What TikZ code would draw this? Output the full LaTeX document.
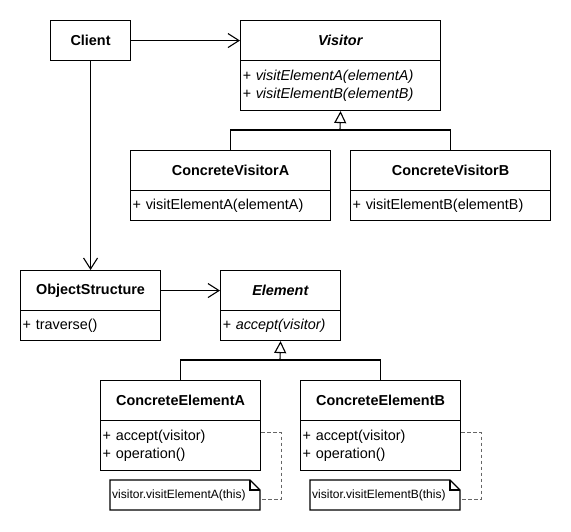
\documentclass[tikz,border=0pt]{standalone}
\usepackage{fontspec}
\setmainfont{Liberation Sans}
\usetikzlibrary{arrows.meta}
\begin{document}
\begin{tikzpicture}[x=1pt,y=-1pt,
  ln/.style={line width=1.1pt, line join=miter},
  hd/.style={draw, ln, fill=white, anchor=north west, inner sep=0pt, minimum height=40pt, font=\fontsize{14.4}{17}\selectfont\bfseries},
  bd/.style={draw, ln, fill=white, anchor=north west, inner xsep=2pt, inner ysep=0pt, align=left, font=\fontsize{14.4}{17.5}\selectfont},
  notebox/.style={anchor=north west, inner xsep=2pt, inner ysep=0pt, minimum height=30pt, align=left, font=\fontsize{12}{14}\selectfont},
  assoc/.style={ln, -{Straight Barb[length=11pt,width=14pt,line width=1.1pt]}},
  inh/.style={ln, -{Triangle[open,length=12pt,width=12pt,line width=1.1pt,fill=white]}},
  noteline/.style={line width=1.1pt, draw=black!60, dash pattern=on 3.5pt off 2.5pt}
]
\useasboundingbox (0,0) rectangle (571,531);
\fill[white] (0,0) rectangle (571,531);

% Client
\node[hd, minimum width=80pt] (client) at (50,20) {Client};
% Visitor
\node[hd, minimum width=200pt] (visH) at (240,20) {\textit{Visitor}};
\node[bd, text width=196pt, minimum height=50pt] (visB) at (240,60) {\textit{+ visitElementA(elementA)}\\\textit{+ visitElementB(elementB)}};
% Concrete visitors
\node[hd, minimum width=200pt] (cvaH) at (130,150) {ConcreteVisitorA};
\node[bd, text width=196pt, minimum height=30pt] (cvaB) at (130,190) {+ visitElementA(elementA)};
\node[hd, minimum width=200pt] (cvbH) at (350,150) {ConcreteVisitorB};
\node[bd, text width=196pt, minimum height=30pt] (cvbB) at (350,190) {+ visitElementB(elementB)};
% ObjectStructure
\node[hd, minimum width=140pt] (osH) at (20,270) {ObjectStructure};
\node[bd, text width=136pt, minimum height=30pt] (osB) at (20,310) {+ traverse()};
% Element
\node[hd, minimum width=120pt] (elH) at (220,270) {\textit{Element}};
\node[bd, text width=116pt, minimum height=30pt] (elB) at (220,310) {\textit{+ accept(visitor)}};
% Concrete elements
\node[hd, minimum width=160pt] (ceaH) at (100,380) {ConcreteElementA};
\node[bd, text width=156pt, minimum height=50pt] (ceaB) at (100,420) {+ accept(visitor)\\+ operation()};
\node[hd, minimum width=160pt] (cebH) at (300,380) {ConcreteElementB};
\node[bd, text width=156pt, minimum height=50pt] (cebB) at (300,420) {+ accept(visitor)\\+ operation()};
% Notes (outline drawn first, text on top)
\path (110,480) coordinate (nAtl) (310,480) coordinate (nBtl);
\foreach \c in {nAtl,nBtl}{
  \draw[ln, fill=white] (\c) -- ++(140,0) -- ++(10,10) -- ++(0,20) -- ++(-150,0) -- cycle;
  \draw[ln] ([xshift=140pt]\c) -- ++(0,10) -- ++(10,0);
}
\node[notebox, text width=146pt] (noteA) at (nAtl) {visitor.visitElementA(this)};
\node[notebox, text width=146pt] (noteB) at (nBtl) {visitor.visitElementB(this)};

% Associations
\draw[assoc] (client.east) -- (visH.west);
\draw[assoc] (client.south) -- (osH.north);
\draw[assoc] (osH.east) -- (elH.west);

% Inheritance
\coordinate (vj) at (340,130);
\draw[ln] (cvaH.north) |- (vj) -| (cvbH.north);
\draw[inh] (vj) -- (visB.south);
\coordinate (ej) at (280,360);
\draw[ln] (ceaH.north) |- (ej) -| (cebH.north);
\draw[inh] (ej) -- (elB.south);

% Note links
\draw[noteline] ([yshift=13pt]ceaB.east) -- ++(20,0) |- ([yshift=-4pt]noteA.east);
\draw[noteline] ([yshift=13pt]cebB.east) -- ++(20,0) |- ([yshift=-4pt]noteB.east);
\end{tikzpicture}
\end{document}
